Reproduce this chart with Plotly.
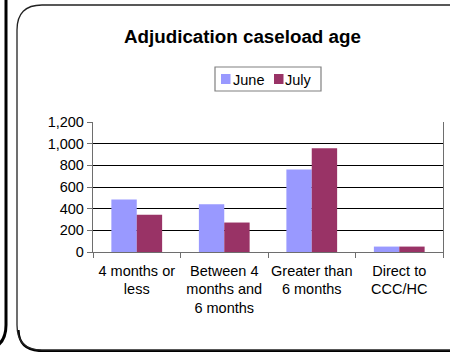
import plotly.graph_objects as go

# Caseload counts by age band
categories = ["4 months or<br>less", "Between 4<br>months and<br>6 months",
              "Greater than<br>6 months", "Direct to<br>CCC/HC"]
june = [485, 440, 762, 50]
july = [345, 272, 957, 50]
series_names = ["June", "July"]
series_colors = ["#9999FF", "#993366"]
y_ticks = [0, 200, 400, 600, 800, 1000, 1200]
y_tick_labels = ["0", "200", "400", "600", "800", "1,000", "1,200"]

W, H = 450, 352
L, R, T, B = 93, 7, 122, 100
PW, PH = W - L - R, H - T - B
FONT = "Arial, 'Liberation Sans', sans-serif"


def px(x):
    return (x - L) / PW


def py(y):
    return (H - B - y) / PH


def path(points_cmds):
    out = []
    for cmd, *pts in points_cmds:
        coords = []
        for i in range(0, len(pts), 2):
            coords.append(f"{px(pts[i]):.5f},{py(pts[i + 1]):.5f}")
        out.append(cmd + " " + " ".join(coords))
    return " ".join(out)


fig = go.Figure()
for name, vals, col in zip(series_names, [june, july], series_colors):
    fig.add_trace(go.Bar(x=categories, y=vals, name=name, marker_color=col,
                         marker_line_width=0, showlegend=False))

shapes = []
# frame of the neighbouring panel on the left
shapes.append(dict(type="path", xref="paper", yref="paper",
                   path=path([("M", 6, -10), ("L", 6, 325), ("Q", 6, 350, -20, 350)]),
                   line=dict(color="black", width=3)))
# rounded chart frame, with a soft drop shadow
frame = [("M", 17, 30), ("Q", 17, 5, 42, 5), ("L", 470, 5),
         ("M", 17, 30), ("L", 17, 325), ("Q", 17, 350, 42, 350), ("L", 470, 350)]
shadow = [("M", 18.5, 330), ("Q", 19, 351, 42, 351), ("L", 470, 351)]
shapes.append(dict(type="path", xref="paper", yref="paper", path=path(shadow),
                   line=dict(color="black", width=2.2)))
shapes.append(dict(type="path", xref="paper", yref="paper", path=path(frame),
                   line=dict(color="#222222", width=1.3)))
# legend box and swatches
shapes.append(dict(type="rect", xref="paper", yref="paper",
                   x0=px(215), x1=px(321), y0=py(67), y1=py(91),
                   line=dict(color="#808080", width=1.2), fillcolor="white"))
for x0, col in zip([221, 274], series_colors):
    shapes.append(dict(type="rect", xref="paper", yref="paper",
                       x0=px(x0), x1=px(x0 + 9.5), y0=py(74), y1=py(84),
                       line=dict(width=0), fillcolor=col))

annotations = [
    dict(text="<b>Adjudication caseload age</b>", xref="paper", yref="paper",
         x=px(242.5), y=py(36.5), xanchor="center", yanchor="middle", showarrow=False,
         font=dict(family=FONT, size=18.8, color="black")),
]
for x0, name in zip([233, 285], series_names):
    annotations.append(dict(text=name, xref="paper", yref="paper",
                            x=px(x0), y=py(79.5), xanchor="left", yanchor="middle",
                            showarrow=False, xshift=-2,
                            font=dict(family=FONT, size=14.5, color="black")))

fig.update_layout(
    width=W, height=H,
    margin=dict(l=L, r=R, t=T, b=B, pad=0, autoexpand=False),
    paper_bgcolor="white", plot_bgcolor="white",
    barmode="group", bargap=0.42, bargroupgap=0,
    font=dict(family=FONT, size=14.5, color="black"),
    shapes=shapes, annotations=annotations,
    xaxis=dict(showline=True, linecolor="#6e6e6e", linewidth=1.3,
               ticks="outside", tickson="boundaries", ticklen=5,
               tickcolor="#6e6e6e", tickwidth=1.3, tickangle=0,
               ticklabelstandoff=5,
               automargin=False, showgrid=False, fixedrange=True),
    yaxis=dict(range=[0, 1200], tickvals=y_ticks, ticktext=y_tick_labels,
               showline=True, linecolor="#6e6e6e", linewidth=1.3, mirror=True,
               ticks="outside", ticklen=5, tickcolor="#6e6e6e", tickwidth=1.3,
               showgrid=True, gridcolor="black", gridwidth=1,
               zeroline=False, automargin=False, fixedrange=True),
)

fig.write_html("out.html")
